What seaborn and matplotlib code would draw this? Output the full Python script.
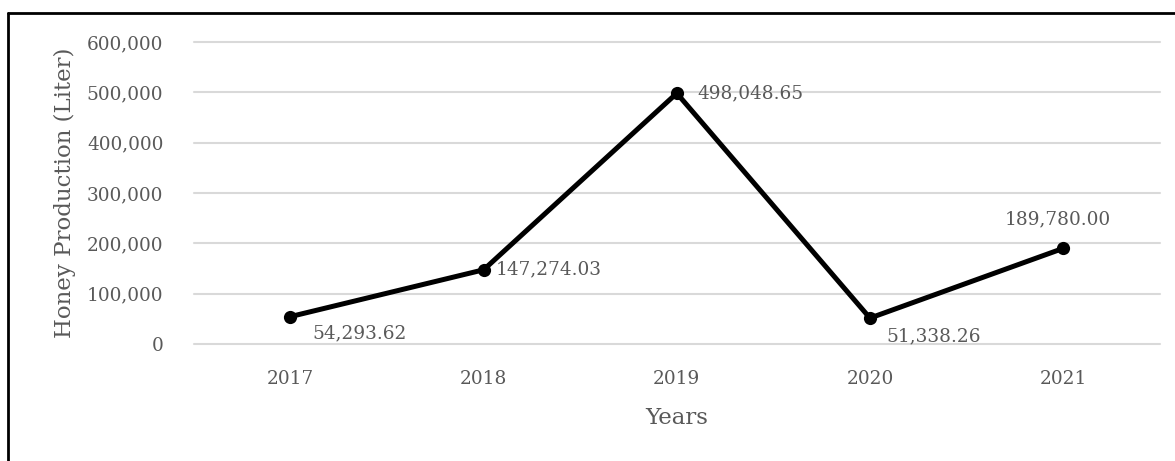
import matplotlib
matplotlib.use("Agg")
import matplotlib.pyplot as plt
import seaborn as sns
import pandas as pd
from matplotlib.lines import Line2D
from matplotlib.ticker import FuncFormatter

# data
years = ["2017", "2018", "2019", "2020", "2021"]
production = [54293.62, 147274.03, 498048.65, 51338.26, 189780.00]
# label offsets in points (dx, dy) and horizontal alignment
label_offsets = [(16, -12), (9, 0), (15, 0), (12, -13), (-4, 21)]
label_ha = ["left", "left", "left", "left", "center"]

df = pd.DataFrame({"year": years, "production": production})

sns.set_theme(style="white")
plt.rcParams["font.family"] = ["DejaVu Serif"]
grey = "#595959"

fig = plt.figure(figsize=(11.75, 4.61), dpi=100)
ax = fig.add_axes([0.165, 0.254, 0.822, 0.655])

sns.lineplot(data=df, x="year", y="production", ax=ax, color="black",
             linewidth=3.6, marker="o", markersize=9.5, markeredgewidth=0,
             sort=False, zorder=3)

ax.set_xlim(-0.5, 4.5)
ax.set_ylim(0, 600000)
ax.set_yticks(range(0, 600001, 100000))
ax.yaxis.set_major_formatter(FuncFormatter(lambda v, p: f"{v:,.0f}"))
ax.grid(axis="y", color="#d9d9d9", linewidth=1.5, zorder=0)
ax.grid(axis="x", visible=False)
for gl in ax.get_ygridlines():
    gl.set_clip_on(False)
sns.despine(ax=ax, left=True, bottom=True)
ax.tick_params(axis="both", length=0, labelsize=13.3, labelcolor=grey)
ax.tick_params(axis="y", pad=22)
ax.tick_params(axis="x", pad=19)

ax.set_xlabel("Years", fontsize=16.5, color=grey)
ax.set_ylabel("Honey Production (Liter)", fontsize=16.5, color=grey)
ax.xaxis.set_label_coords(0.5, -0.21)
ax.yaxis.set_label_coords(-0.122, 0.5)

for i, (v, (dx, dy), ha) in enumerate(zip(production, label_offsets, label_ha)):
    ax.annotate(f"{v:,.2f}", (i, v), xytext=(dx, dy), textcoords="offset points",
                ha=ha, va="center", fontsize=13.3, color=grey)

# frame around the picture (top and left edges visible in the reference)
fig.add_artist(Line2D([0.0068, 1.0], [0.972, 0.972], color="black", linewidth=2,
                      transform=fig.transFigure))
fig.add_artist(Line2D([0.0068, 0.0068], [0.0, 0.972], color="black", linewidth=2,
                      transform=fig.transFigure))

fig.savefig("out.png", dpi=100)
